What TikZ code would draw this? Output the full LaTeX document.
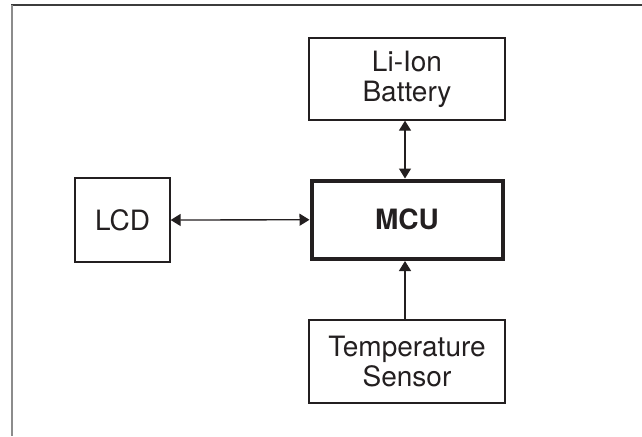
\documentclass[tikz,border=0pt]{standalone}
\usepackage{fontspec}
\setmainfont{TeX Gyre Heros}
\usetikzlibrary{arrows.meta}
\definecolor{ink}{HTML}{231F20}
\definecolor{frametop}{HTML}{3C3C3C}
\definecolor{frameleft}{HTML}{8C8C8C}
\begin{document}
\begin{tikzpicture}[x=0.75pt,y=-0.75pt,
  blk/.style={draw=ink, line width=1pt, inner sep=0pt, align=center,
    font=\fontsize{21}{22.5}\selectfont, text=ink},
  mcublk/.style={blk, line width=3pt, font=\fontsize{21}{22.5}\selectfont\bfseries},
  conn/.style={draw=ink, line width=1pt},
]
\useasboundingbox (0,0) rectangle (642,436);
\draw[frametop, line width=1.1pt] (11.3,5) -- (642,5);
\draw[frameleft, line width=1.5pt] (12,4.5) -- (12,436);

\node[blk, minimum width=95*0.75pt, minimum height=84*0.75pt] (lcd) at (122.5,220) {LCD};
\node[mcublk, minimum width=191*0.75pt, minimum height=78.5*0.75pt] (mcu) at (407,219.75) {MCU};
\node[blk, minimum width=196*0.75pt, minimum height=82*0.75pt] (bat) at (407,79) {Li-Ion\\Battery};
\node[blk, minimum width=196*0.75pt, minimum height=83*0.75pt] (temp) at (407,361.5) {Temperature\\Sensor};

\draw[conn, {Triangle[length=7.5pt,width=9pt]}-{Triangle[length=7.5pt,width=9pt]}] (lcd.east) -- (mcu.west);
\draw[conn, {Triangle[length=7.5pt,width=9pt]}-{Triangle[length=7.5pt,width=9pt]}] ([xshift=-1.5pt]bat.south) -- ([xshift=-1.5pt]mcu.north);
\draw[conn, -{Triangle[length=7.5pt,width=9pt]}] ([xshift=-1.5pt]temp.north) -- ([xshift=-1.5pt]mcu.south);
\end{tikzpicture}
\end{document}
